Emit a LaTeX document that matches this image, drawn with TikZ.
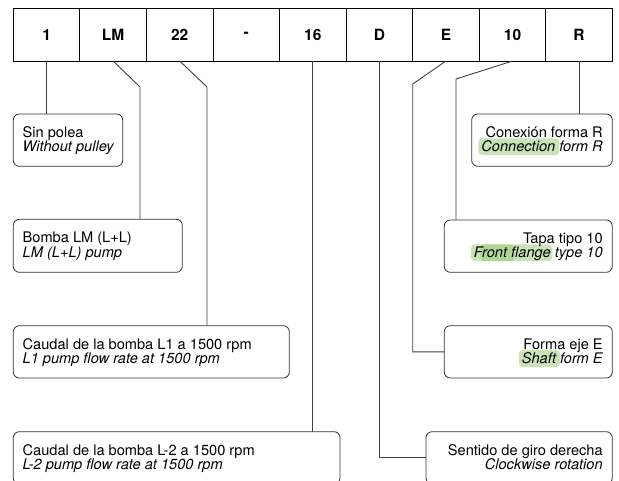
\documentclass[tikz,border=0pt]{standalone}
\usepackage{fontspec}
\setmainfont{TeX Gyre Heros}
\usetikzlibrary{calc,backgrounds}
\definecolor{hlg}{RGB}{156,203,122}
\begin{document}
\begin{tikzpicture}[x=1pt,y=-1pt,
  cell/.style={draw=black, line width=0.9pt, minimum width=66.56pt, minimum height=52.7pt, inner sep=0pt, outer sep=0pt, font=\fontsize{15.5}{17}\selectfont\bfseries, anchor=north west},
  lbox/.style={draw=black!80, line width=0.8pt, rounded corners=6pt, inner sep=0pt, outer sep=0pt, anchor=north west, minimum height=52.3pt},
  txt/.style={inner sep=0pt, outer sep=0pt, font=\fontsize{14.6}{16}\selectfont},
  conn/.style={draw=black!75, line width=0.9pt},
  hl/.style={fill=hlg, fill opacity=0.55, rounded corners=4pt}]
\clip (0,0) rectangle (619,480);
\useasboundingbox (0,0) rectangle (619,480);
% top row
\foreach \t [count=\i] in {1,LM,22,-,16,D,E,10,R}
  \node[cell] (n\i) at ({13.3+(\i-1)*66.56},8.3) {\t};
% left boxes
\node[lbox, minimum width=109.4pt] (sin) at (13.3,114) {};
\node[lbox, minimum width=169pt, minimum height=53pt] (bomba) at (13.3,219.3) {};
\node[lbox, minimum width=276pt] (cl1) at (13.3,325.7) {};
\node[lbox, minimum width=326.7pt] (cl2) at (13.3,431.7) {};
% right boxes
\node[lbox, minimum width=140.6pt] (con) at (471.7,114) {};
\node[lbox, minimum width=168pt] (tapa) at (444.3,220) {};
\node[lbox, minimum width=168pt] (forma) at (444.3,325.7) {};
\node[lbox, minimum width=186.3pt] (sent) at (426,431.7) {};
% left texts
\node[txt, anchor=base west] (sin1) at ($(sin.north west)+(9.4,23.5)$) {Sin polea};
\node[txt, anchor=base west] (sin2) at ($(sin.north west)+(9.4,37.7)$) {\itshape Without pulley};
\node[txt, anchor=base west] (bom1) at ($(bomba.north west)+(9.4,23.5)$) {Bomba LM (L+L)};
\node[txt, anchor=base west] (bom2) at ($(bomba.north west)+(9.4,37.7)$) {\itshape LM (L+L) pump};
\node[txt, anchor=base west] (cla1) at ($(cl1.north west)+(9.4,23.5)$) {Caudal de la bomba L1 a 1500 rpm};
\node[txt, anchor=base west] (cla2) at ($(cl1.north west)+(9.4,37.7)$) {\itshape L1 pump flow rate at 1500 rpm};
\node[txt, anchor=base west] (clb1) at ($(cl2.north west)+(9.4,23.5)$) {Caudal de la bomba L-2 a 1500 rpm};
\node[txt, anchor=base west] (clb2) at ($(cl2.north west)+(9.4,37.7)$) {\itshape L-2 pump flow rate at 1500 rpm};
% right texts
\node[txt, anchor=base east] (con1) at ($(con.north east)+(-9.6,23.5)$) {Conexión forma R};
\node[txt, anchor=base east] (con2b) at ($(con.north east)+(-9.6,37.7)$) {\itshape form R};
\node[txt, anchor=base east] (con2a) at (con2b.base west) {\itshape Connection\ \kern0pt};
\node[txt, anchor=base east] (tap1) at ($(tapa.north east)+(-9.6,23.5)$) {Tapa tipo 10};
\node[txt, anchor=base east] (tap2b) at ($(tapa.north east)+(-9.6,37.7)$) {\itshape type 10};
\node[txt, anchor=base east] (tap2a) at (tap2b.base west) {\itshape Front flange\ \kern0pt};
\node[txt, anchor=base east] (for1) at ($(forma.north east)+(-9.6,23.5)$) {Forma eje E};
\node[txt, anchor=base east] (for2b) at ($(forma.north east)+(-9.6,37.7)$) {\itshape form E};
\node[txt, anchor=base east] (for2a) at (for2b.base west) {\itshape Shaft\ \kern0pt};
\node[txt, anchor=base east] (sen1) at ($(sent.north east)+(-9.6,23.5)$) {Sentido de giro derecha};
\node[txt, anchor=base east] (sen2) at ($(sent.north east)+(-9.6,37.7)$) {\itshape Clockwise rotation};
% highlights
\begin{scope}[on background layer]
\fill[hl] ([xshift=-3pt,yshift=-3.5pt]con2a.base west) rectangle ([xshift=0pt,yshift=13.3pt]con2a.base east);
\fill[hl] ([xshift=-3pt,yshift=-3.5pt]tap2a.base west) rectangle ([xshift=-2.5pt,yshift=13.3pt]tap2a.base east);
\fill[hl] ([xshift=6.5pt,yshift=-3.5pt]tap2a.base west) rectangle ([xshift=40.5pt,yshift=13.3pt]tap2a.base west);
\fill[hl] ([xshift=-3pt,yshift=-3.5pt]for2a.base west) rectangle ([xshift=0pt,yshift=13.3pt]for2a.base east);
\end{scope}
% connectors
\coordinate (k2) at (140,87);
\coordinate (k3) at (207,87);
\coordinate (k7) at (412.7,84);
\coordinate (k8) at (456,79);
\draw[conn] (n1.south) -- (n1.south |- sin.north);
\draw[conn] (n2.south) -- (k2) -- (k2 |- bomba.north);
\draw[conn] (n3.south) -- (k3) -- (k3 |- cl1.north);
\draw[conn] (n5.south) -- (n5.south |- cl2.north);
\draw[conn] (n6.south) -- (n6.south |- sent.west) -- (sent.west);
\draw[conn] (n7.south) -- (k7) -- (k7 |- forma.west) -- (forma.west);
\draw[conn] (n8.south) -- (k8) -- (k8 |- tapa.north);
\draw[conn] (n9.south) -- (n9.south |- con.north);
\end{tikzpicture}
\end{document}
